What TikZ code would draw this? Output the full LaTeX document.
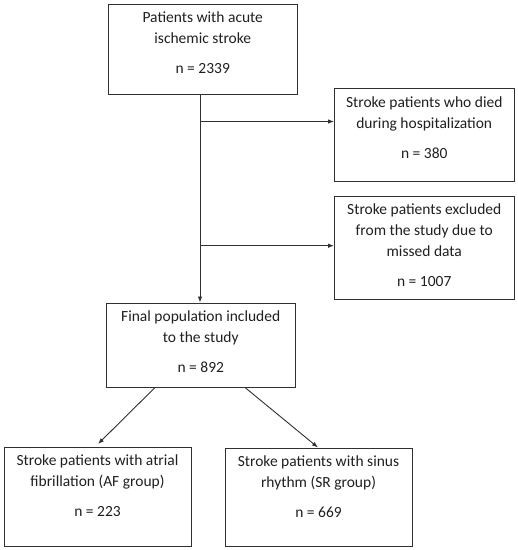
\documentclass[tikz,border=0pt]{standalone}
\usepackage{fontspec}
\setmainfont{Carlito}
\usetikzlibrary{arrows.meta}
\definecolor{ln}{HTML}{303030}
\definecolor{tx}{HTML}{202020}
\newcommand\mystrut{\rule{0pt}{11pt}}
\begin{document}
\begin{tikzpicture}[x=1pt,y=-1pt,
  box/.style={draw=ln, line width=1pt, rectangle, inner sep=0pt},
  txt/.style={anchor=north, align=center, inner sep=0pt, text=tx,
    font=\fontsize{15.5pt}{21pt}\selectfont},
  arr/.style={draw=ln, line width=0.9pt, -{Latex[length=6pt,width=4.5pt]}}]
\useasboundingbox[fill=white] (0,0) rectangle (518,550);
% boxes
\node[box, minimum width=188.5pt, minimum height=90pt] (b1) at (202.75,49) {};
\node[box, minimum width=179.5pt, minimum height=92.5pt] (b2) at (424.25,134.75) {};
\node[box, minimum width=179.5pt, minimum height=103pt] (b3) at (424.25,247.5) {};
\node[box, minimum width=188.5pt, minimum height=84pt] (b4) at (200.75,345) {};
\node[box, minimum width=187pt, minimum height=99pt] (b5) at (97.5,496.5) {};
\node[box, minimum width=187pt, minimum height=98pt] (b6) at (318.5,497) {};
% texts
\node[txt] (t1) at ([yshift=-8pt]b1.north) {\mystrut Patients with acute\\ ischemic stroke\\[9pt] n = 2339};
\node[txt] (t2) at ([yshift=-8pt]b2.north) {\mystrut Stroke patients who died\\ during hospitalization\\[9pt] n = 380};
\node[txt] (t3) at ([yshift=-8pt]b3.north) {\mystrut Stroke patients excluded\\ from the study due to\\ missed data\\[9pt] n = 1007};
\node[txt] (t4) at ([yshift=-8pt]b4.north) {\mystrut Final population included\\ to the study\\[9pt] n = 892};
\node[txt] (t5) at ([yshift=-8pt]b5.north) {\mystrut Stroke patients with atrial\\ fibrillation (AF group)\\[9pt] n = 223};
\node[txt] (t6) at ([yshift=-8pt]b6.north) {\mystrut Stroke patients with sinus\\ rhythm (SR group)\\[9pt] n = 669};
% connectors
\coordinate (j1) at (200,121.5);
\coordinate (j2) at (200,245.7);
\draw[arr] (b1.south -| j1) -- (b4.north -| j1);
\draw[arr] (j1) -- (j1 -| b2.west);
\draw[arr] (j2) -- (j2 -| b3.west);
\coordinate (s5) at (155,387);
\coordinate (e5) at (98,444);
\coordinate (s6) at (245,387);
\coordinate (e6) at (318,447.5);
\draw[arr] (s5 |- b4.south) -- (e5);
\draw[arr] (s6 |- b4.south) -- (e6 |- b6.north);
\end{tikzpicture}
\end{document}
